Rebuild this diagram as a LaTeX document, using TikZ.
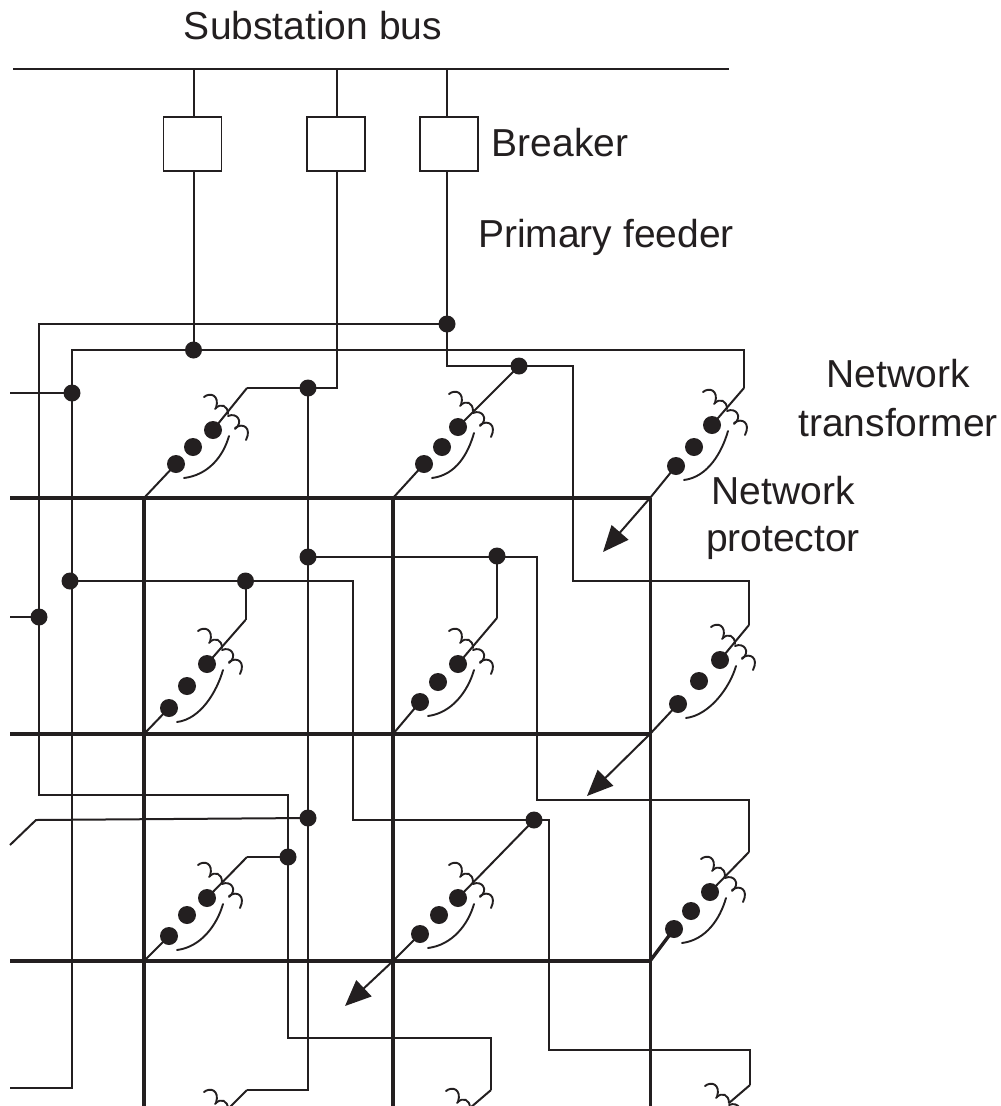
\documentclass[tikz,border=0pt]{standalone}
\usepackage{fontspec}
\setmainfont{Liberation Sans}
\usetikzlibrary{calc,arrows.meta}
\definecolor{ink}{HTML}{231F20}
\tikzset{
  wire/.style={draw=ink,line width=2pt,line join=miter},
  fine/.style={draw=ink,line width=1.9pt,line cap=round},
  heavy/.style={draw=ink,line width=4pt},
  medium/.style={draw=ink,line width=3pt},
  jdot/.style={circle,fill=ink,draw=none,inner sep=0pt,minimum size=17pt},
  cdot/.style={circle,fill=ink,draw=none,inner sep=0pt,minimum size=18pt},
  breaker/.style={rectangle,draw=ink,line width=1.5pt,fill=white,inner sep=0pt,minimum width=58pt,minimum height=54pt},
  lbl/.style={font=\fontsize{39}{47.5}\selectfont,text=ink,align=center,inner sep=0pt},
  arr/.style={draw=ink,line width=2pt,-{Triangle[length=26pt,width=22pt]}}
}
\newcommand{\coilat}[1]{%
  \begin{scope}[shift={(#1)}]
    \draw[fine] (-24,-17) .. controls (-18,-22) and (-8,-19) .. (-12,-6);
    \draw[fine] (-13,-5) .. controls (-7,-12) and (0,-8) .. (0,0);
    \draw[fine] (0,2) .. controls (9,-2) and (16,8) .. (7,15);
    \draw[fine] (7,14) .. controls (15,8) and (24,14) .. (18,26);
  \end{scope}}
% name, junction, dot1, dot2, dot3, top
\newcommand{\xfmr}[6]{%
  \coordinate (#1j) at (#2);
  \coordinate (#1t) at (#6);
  \node[cdot] (#1a) at (#3) {};
  \node[cdot] (#1b) at (#4) {};
  \node[cdot] (#1c) at (#5) {};
  \draw[wire] (#1j) -- (#1a.center);
  \draw[wire] (#1c.center) -- (#1t);
  \draw[fine] ($(#1a)+(8,14)$) .. controls ($(#1a)+(32,11)$) and ($(#1c)+(10,27)$) .. ($(#1c)+(16,6)$);
  \coilat{$(#1c)+(15,-16)$}}
\begin{document}
\begin{tikzpicture}[x=1pt,y=-1pt]
\clip (0,0) rectangle (1001,1106);
\fill[white] (0,0) rectangle (1001,1106);

% labels
\node[lbl] (tbus) at (313,26) {Substation bus};
\node[lbl] (tbrk) at (560,143) {Breaker};
\node[lbl] (tfdr) at (606,237) {Primary feeder};
\node[lbl] (tnt) at (898,398.5) {Network\\[1.5pt]transformer};
\node[lbl] (tnp) at (783,518) {Network\\protector};

% bus and breakers
\coordinate (busL) at (13,69);
\coordinate (busR) at (729,69);
\draw[wire] (busL) -- (busR);
\node[breaker] (b1) at (192.5,144) {};
\node[breaker] (b2) at (336,144) {};
\node[breaker] (b3) at (449,144) {};
\coordinate (f1) at (193.5,69);
\coordinate (f2) at (337,69);
\coordinate (f3) at (447,69);
\draw[wire] (f1) -- (f1 |- b1.north);
\draw[wire] (f2) -- (f2 |- b2.north);
\draw[wire] (f3) -- (f3 |- b3.north);

% network grid
\draw[heavy] (10,498) -- (650,498);
\draw[heavy] (10,734) -- (650,734);
\draw[heavy] (10,961) -- (650,961);
\draw[heavy] (144,498) -- (144,1106);
\draw[heavy] (393,498) -- (393,1106);
\draw[medium] (650,498) -- (650,1106);

% junction dots
\node[jdot] (p1) at (447,324) {};
\node[jdot] (p2) at (193.5,350) {};
\node[jdot] (p3) at (519,366) {};
\node[jdot] (p4) at (308,388) {};
\node[jdot] (p5) at (72,393) {};
\node[jdot] (p6) at (308,557) {};
\node[jdot] (p7) at (497,556) {};
\node[jdot] (p8) at (70,581) {};
\node[jdot] (p9) at (245.5,581) {};
\node[jdot] (p10) at (39,617) {};
\node[jdot] (p11) at (308,818) {};
\node[jdot] (p12) at (534,820) {};
\node[jdot] (p13) at (288,857) {};

% transformers
\xfmr{ta}{144,498}{176,464}{193,447}{213,430}{247,388}
\xfmr{tb}{393,498}{424,464}{442,447}{458,427}{p3.center}
\xfmr{tc}{650,498}{676,466}{694,447}{712,425}{744,388}
\xfmr{td}{144,734}{169,708}{187,686}{207,664}{245.5,620}
\xfmr{te}{393,734}{420,702}{438,682}{458,664}{497,618}
\xfmr{tf}{650,734}{678,704}{699,681}{720,660}{749,625}
\xfmr{tg}{144,961}{169,936}{187,915}{207,898}{247,857}
\xfmr{th}{393,961}{420,934}{439,915}{458,898}{p12.center}
\xfmr{ti}{650,961}{674,929}{691,911}{710,892}{749,852}
\draw[draw=ink,line width=3.4pt] (tij) -- (tia.center);

% bottom row, cut by the edge
\coordinate (tjc) at (228,1109);
\coordinate (tkc) at (470,1108);
\coordinate (tlc) at (729,1103);
\coordinate (tjt) at (247,1090);
\coordinate (tkt) at (491,1090);
\coordinate (tlt) at (750,1085);
\coilat{tjc}
\coilat{tkc}
\coilat{tlc}
\draw[wire] (tjc) -- (tjt);
\draw[wire] (tkc) -- (tkt);
\draw[wire] (tlc) -- (tlt);

% primary feeders
\draw[wire] (f1 |- b1.south) -- (p2.center);
\draw[wire] (f2 |- b2.south) -- (337,388) -- (p4.center);
\draw[wire] (f3 |- b3.south) -- (p1.center);
\draw[wire] (p1.center) -- (447,366) -- (p3.center);
\draw[wire] (p3.center) -- (573,366) -- (573,581) -- (749,581) -- (tft);
\draw[wire] (p1.center) -- (39,324) -- (39,795) -- (288,795) -- (288,1038) -- (491,1038) -- (tkt);
\draw[wire] (p2.center) -- (72,350) -- (72,1088) -- (10,1088);
\draw[wire] (p2.center) -- (744,350) -- (tct);
\draw[wire] (tat) -- (p4.center);
\draw[wire] (p4.center) -- (308,1090) -- (tjt);
\draw[wire] (p6.center) -- (537,557) -- (537,800) -- (749,800) -- (tit);
\draw[wire] (p7.center) -- (tet);
\draw[wire] (p8.center) -- (353,581) -- (353,820) -- (p12.center);
\draw[wire] (p9.center) -- (tdt);
\draw[wire] (p11.center) -- (36,820) -- (10,845);
\draw[wire] (tgt) -- (p13.center);
\draw[wire] (p12.center) -- (549,820) -- (549,1050) -- (750,1050) -- (tlt);
\coordinate (s1) at (10,393);
\coordinate (s2) at (10,617);
\draw[wire] (s1) -- (p5.center);
\draw[wire] (s2) -- (p10.center);

% arrows
\draw[arr] (tcj) -- (603,552);
\draw[arr] (tfj) -- (587,796);
\draw[arr] (thj) -- (345,1006);
\end{tikzpicture}
\end{document}
